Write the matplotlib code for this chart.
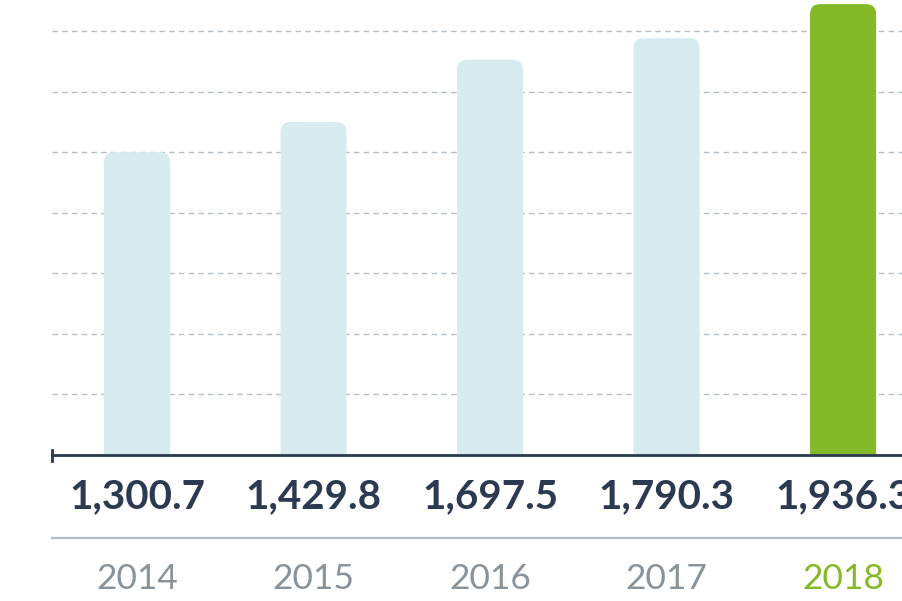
import matplotlib
matplotlib.use("Agg")
import matplotlib.pyplot as plt
import matplotlib.transforms as mtransforms
from matplotlib.patches import FancyBboxPatch
from matplotlib.lines import Line2D

# chart data
years = ["2014", "2015", "2016", "2017", "2018"]
values = [1300.7, 1429.8, 1697.5, 1790.3, 1936.3]
value_labels = ["1,300.7", "1,429.8", "1,697.5", "1,790.3", "1,936.3"]
grid_levels = [260, 520, 780, 1040, 1300, 1560, 1820]

light = "#d6ecef"
green = "#84ba27"
navy = "#2c3a51"
grey_text = "#8a9399"

W, H = 903, 601
fig = plt.figure(figsize=(W / 100, H / 100), dpi=100)

# axes runs past the right edge of the figure (chart is cropped)
left_px, base_px, step_px = 52, 455, 176.5
ax = fig.add_axes([left_px / W, (H - base_px) / H, 5 * step_px / W, base_px / H])
ax.set_xlim(-0.482, 4.518)
ax.set_ylim(0, 1954)
ax.axis("off")

# dashed gridlines
for g in grid_levels:
    ax.axhline(g, color="#b4bfc6", lw=1.0, ls=(0, (4, 3)), zorder=0)

# rounded-top bars
bar_w = 0.374
r_x = 10 / step_px
aspect = (10 / (base_px / 1954)) / r_x
for i, v in enumerate(values):
    col = green if i == len(values) - 1 else light
    p = FancyBboxPatch((i - bar_w / 2, -200), bar_w, v + 200,
                       boxstyle=f"round,pad=0,rounding_size={r_x}",
                       mutation_aspect=aspect, fc=col, ec="none", zorder=2)
    ax.add_patch(p)

# baseline with small end tick
ax.axhline(0, color=navy, lw=2, zorder=3, clip_on=False)
fig.add_artist(Line2D([left_px / W, left_px / W], [(H - 450) / H, (H - 461) / H],
                      color=navy, lw=2))

# separator line
fig.add_artist(Line2D([left_px / W, 1.0], [(H - 538) / H, (H - 538) / H],
                      color="#b3bec5", lw=1.6))

trans = mtransforms.blended_transform_factory(ax.transData, fig.transFigure)
for i, (lab, yr) in enumerate(zip(value_labels, years)):
    ax.text(i, (H - 497) / H, lab, transform=trans, ha="center", va="center",
            fontsize=29, fontweight="bold", family="Lato", color=navy, clip_on=False)
    ax.text(i, (H - 579) / H, yr, transform=trans, ha="center", va="center",
            fontsize=25.5, family="Lato", color=green if i == len(years) - 1 else grey_text,
            clip_on=False)

fig.savefig("out.png", dpi=100)
